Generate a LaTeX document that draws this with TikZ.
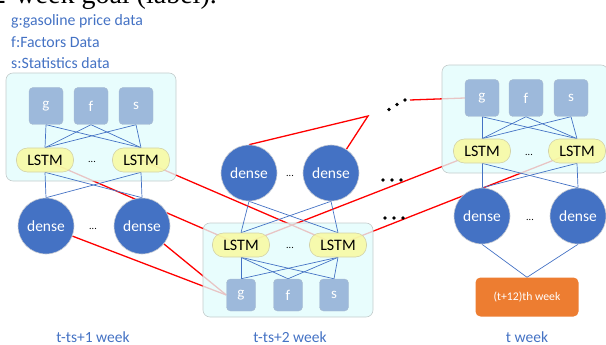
\documentclass[tikz,border=0pt]{standalone}
\usepackage{fontspec}
\setmainfont{Carlito}
\newfontfamily\serifx{Liberation Serif}
\usetikzlibrary{positioning}
\pgfdeclarelayer{redl}
\pgfdeclarelayer{contl}
\pgfdeclarelayer{bluel}
\pgfsetlayers{redl,contl,bluel,main}
\definecolor{contf}{HTML}{E2FDFD}
\definecolor{contb}{HTML}{C4CCCC}
\definecolor{gfsf}{HTML}{95B3D7}
\definecolor{gfsb}{HTML}{AABBD0}
\definecolor{lstmf}{HTML}{FAFA9C}
\definecolor{lstmb}{HTML}{D2D2A8}
\definecolor{densef}{HTML}{4472C4}
\definecolor{denseb}{HTML}{C8CCD4}
\definecolor{blueline}{HTML}{4472C4}
\definecolor{txtblue}{HTML}{4472C4}
\definecolor{orangef}{HTML}{ED7D31}
\definecolor{redline}{HTML}{FF0000}
\begin{document}
\begin{tikzpicture}[x=1pt,y=-1pt,
  cont/.style={rectangle, draw=contb, fill=contf, fill opacity=0.78, rounded corners=7pt, line width=0.6pt, inner sep=0},
  inbox/.style={rectangle, rounded corners=4pt, draw=gfsb, fill=gfsf, fill opacity=0.9, text opacity=1, text=white, font=\fontsize{15}{15}\selectfont, inner sep=0, minimum width=34pt, minimum height=37pt},
  inboxs/.style={inbox, minimum width=29pt, minimum height=32pt},
  lstm/.style={rectangle, rounded corners=11pt, draw=lstmb, fill=lstmf, fill opacity=0.82, text opacity=1, line width=0.6pt, minimum width=57pt, minimum height=24pt, inner sep=0, font=\fontsize{16}{16}\selectfont},
  dense/.style={circle, draw=denseb, fill=densef, line width=0.6pt, text=white, minimum size=56pt, inner sep=0, font=\fontsize{15.5}{15.5}\selectfont},
  outbox/.style={rectangle, rounded corners=5pt, fill=orangef, text=white, minimum width=103pt, minimum height=39pt, inner sep=0, font=\fontsize{11.7}{12}\selectfont},
  smalldots/.style={inner sep=0, font=\fontsize{10}{10}\selectfont},
  bigdot/.style={circle, fill=black, inner sep=0, minimum size=3.6pt},
  bl/.style={draw=blueline, line width=0.7pt},
  rl/.style={draw=redline, line width=1.3pt},
  legend/.style={anchor=west, text=txtblue, inner sep=0, font=\fontsize{15.8}{16}\selectfont},
  weeklab/.style={text=txtblue, inner sep=0, font=\fontsize{15.5}{16}\selectfont}
]
\useasboundingbox (0,0) rectangle (606,345);

% cut-off title
\node[anchor=base east, inner sep=0, font=\serifx\fontsize{28}{28}\selectfont] (ttl) at (217,4) {2-week goal (label).};

% legend
\node[legend] (lg1) at (11,21.5) {g:gasoline price data};
\node[legend] (lg2) at (11,42.3) {f:Factors Data};
\node[legend] (lg3) at (11,62.7) {s:Statistics data};

% ---------- containers ----------
\begin{pgfonlayer}{contl}
\node[cont, minimum width=170pt, minimum height=108pt] (lc) at (91,127) {};
\node[cont, minimum width=170pt, minimum height=94pt] (mc) at (288,270) {};
\node[cont, minimum width=166pt, minimum height=108pt] (rc) at (525,119) {};
\end{pgfonlayer}

% ---------- left group ----------
\node[inbox] (lg) at (46,106) {g};
\node[inbox] (lf) at (91,106) {f};
\node[inbox] (ls) at (136,106) {s};
\node[lstm] (lL1) at (45,160) {LSTM};
\node[lstm] (lL2) at (141,160) {LSTM};
\node[smalldots] (ld1) at (92,162) {...};
\node[dense] (lD1) at (46,226) {dense};
\node[dense] (lD2) at (142,226) {dense};
\node[smalldots] (ld2) at (93,229) {...};

% ---------- middle group ----------
\node[dense] (mD1) at (249,173) {dense};
\node[dense] (mD2) at (331,173) {dense};
\node[smalldots] (md1) at (290,176) {...};
\node[lstm] (mL1) at (241,245) {LSTM};
\node[lstm] (mL2) at (338,245) {LSTM};
\node[smalldots] (md2) at (290,248) {...};
\node[inboxs] (mg) at (241,295) {g};
\node[inboxs] (mf) at (288,295) {f};
\node[inboxs] (ms) at (334,295) {s};

% ---------- right group ----------
\node[inbox] (rg) at (482,98) {g};
\node[inbox] (rf) at (526,98) {f};
\node[inbox] (rs) at (571,98) {s};
\node[lstm] (rL1) at (482,151) {LSTM};
\node[lstm] (rL2) at (577,151) {LSTM};
\node[smalldots] (rd1) at (529,155) {...};
\node[dense] (rD1) at (482,216) {dense};
\node[dense] (rD2) at (578,216) {dense};
\node[smalldots] (rd2) at (530,220) {...};
\node[outbox] (out) at (527,297) {(t+12)th week};

% big dot ellipses
\node[bigdot] (ea1) at (389,109.5) {};
\node[bigdot] (ea2) at (397,104.5) {};
\node[bigdot] (ea3) at (405,100) {};
\node[bigdot] (eb1) at (383,180) {};
\node[bigdot] (eb2) at (392,180) {};
\node[bigdot] (eb3) at (401,180) {};
\node[bigdot] (ec1) at (385,218) {};
\node[bigdot] (ec2) at (394,218) {};
\node[bigdot] (ec3) at (403,218) {};

% labels
\node[weeklab] (w1) at (93,337) {t-ts+1 week};
\node[weeklab] (w2) at (290,337) {t-ts+2 week};
\node[weeklab] (w3) at (527,337) {t week};

% ---------- blue connectors ----------
\begin{pgfonlayer}{bluel}
\foreach \a in {lg,lf,ls} {
  \draw[bl] (\a.south) -- (lL1.north);
  \draw[bl] (\a.south) -- (lL2.north);
}
\foreach \a in {lL1,lL2} {
  \draw[bl] (\a.south) -- (lD1.north);
  \draw[bl] (\a.south) -- (lD2.north);
}
\foreach \a in {mD1,mD2} {
  \draw[bl] (\a.south) -- (mL1.north);
  \draw[bl] (\a.south) -- (mL2.north);
}
\foreach \a in {mL1,mL2} {
  \draw[bl] (\a.south) -- (mg.north);
  \draw[bl] (\a.south) -- (mf.north);
  \draw[bl] (\a.south) -- (ms.north);
}
\foreach \a in {rg,rf,rs} {
  \draw[bl] (\a.south) -- (rL1.north);
  \draw[bl] (\a.south) -- (rL2.north);
}
\foreach \a in {rL1,rL2} {
  \draw[bl] (\a.south) -- (rD1.north);
  \draw[bl] (\a.south) -- (rD2.north);
}
\draw[bl] (rD1.south) -- (out.north);
\draw[bl] (rD2.south) -- (out.north);
\end{pgfonlayer}

% ---------- red connectors ----------
\coordinate (pk) at (368,116);
\coordinate (rst) at (410,100);
\begin{pgfonlayer}{redl}
\draw[rl] (lL1.center) -- (mL1.center);
\draw[rl] (lL2.center) -- (mL2.center);
\draw[rl] (lD1) -- (mg.west);
\draw[rl] (lD2) -- (mg.west);
\draw[rl] (mD1.north) -- (pk) -- (mD2);
\draw[rl] (rst) -- (rg.west);
\draw[rl] (mL1.center) -- (rL1.center);
\draw[rl] (mL2.center) -- (rL2.center);
\end{pgfonlayer}
\end{tikzpicture}
\end{document}
